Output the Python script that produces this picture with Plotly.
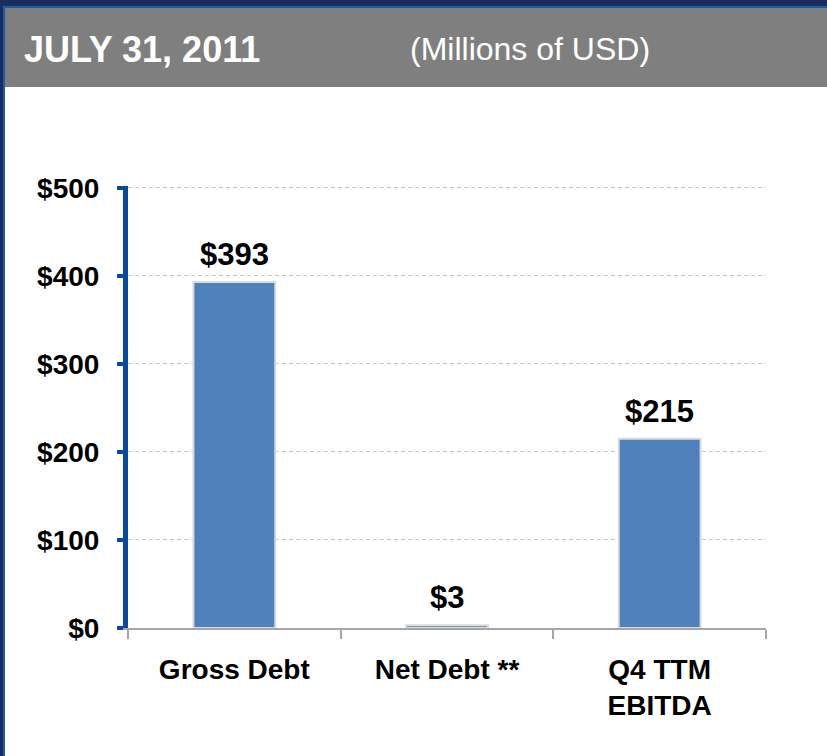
import plotly.graph_objects as go

# Chart data
categories = ["Gross Debt", "Net Debt **", "Q4 TTM<br>EBITDA"]
values = [393, 3, 215]
value_labels = ["$393", "$3", "$215"]
tick_values = [0, 100, 200, 300, 400, 500]
tick_labels = ["$0", "$100", "$200", "$300", "$400", "$500"]
title_text = "JULY 31, 2011"
units_text = "(Millions of USD)"

# Canvas and plot-area geometry (pixels)
W, H = 827, 756
Y_MAX = 502  # a little headroom so the $500 gridline is drawn
ML, MR, MB = 128, 61, 128
PH = round(440 * Y_MAX / 500)
MT = H - MB - PH
PW = W - ML - MR


def px(x):
    return (x - ML) / PW


def py(y):
    return 1 - (y - MT) / PH


FONT = "Liberation Sans, Arial, sans-serif"
NAVY = "#1B2C5F"
FRAME_BLUE = "#1F5BA6"
AXIS_BLUE = "#0B4A98"
BAR_BLUE = "#4F81BD"
HEADER_GRAY = "#7F7F7F"

fig = go.Figure()
fig.add_trace(go.Bar(
    x=categories,
    y=values,
    marker=dict(color=BAR_BLUE, line=dict(color="#DCDCDC", width=2)),
    hoverinfo="skip",
))

# Value labels above the bars
for cat, val, lab in zip(categories, values, value_labels):
    fig.add_annotation(
        x=cat, y=val, text=lab, showarrow=False,
        yanchor="bottom", yshift=8,
        font=dict(family=FONT, size=31, color="black", weight="bold"),
    )

# Frame, header strip and white panel
shapes = [
    dict(x0=px(3), x1=px(W), y0=py(6), y1=py(H), fillcolor=FRAME_BLUE),
    dict(x0=px(5), x1=px(W), y0=py(8), y1=py(87), fillcolor=HEADER_GRAY),
    dict(x0=px(5), x1=px(W), y0=py(87), y1=py(H), fillcolor="white"),
]
for s in shapes:
    fig.add_shape(type="rect", xref="paper", yref="paper", layer="below",
                  line=dict(width=0), **s)

fig.add_annotation(
    xref="paper", yref="paper", x=px(22), y=py(49), text=title_text,
    showarrow=False, xanchor="left", yanchor="middle",
    font=dict(family=FONT, size=36, color="white", weight="bold"),
)
fig.add_annotation(
    xref="paper", yref="paper", x=px(408), y=py(49), text=units_text,
    showarrow=False, xanchor="left", yanchor="middle",
    font=dict(family=FONT, size=32, color="white"),
)

fig.update_layout(
    width=W, height=H,
    margin=dict(l=ML, r=MR, t=MT, b=MB),
    paper_bgcolor=NAVY,
    plot_bgcolor="rgba(0,0,0,0)",
    showlegend=False,
    bargap=0.615,
    font=dict(family=FONT, color="black"),
)
fig.update_xaxes(
    type="category",
    showgrid=False,
    showline=True, linecolor="#A6A6A6", linewidth=2,
    ticks="outside", tickson="boundaries", ticklen=9, tickwidth=2,
    tickcolor="#A6A6A6",
    ticklabelstandoff=15,
    tickfont=dict(family=FONT, size=28, color="black", weight="bold"),
)
fig.update_yaxes(
    range=[0, Y_MAX],
    tickvals=tick_values, ticktext=tick_labels,
    showgrid=True, gridcolor="#C8C8C8", gridwidth=1, griddash="4px,3px",
    zeroline=False,
    showline=True, linecolor=AXIS_BLUE, linewidth=5,
    ticks="outside", ticklen=6, tickwidth=4, tickcolor=AXIS_BLUE,
    ticklabelstandoff=12,
    tickfont=dict(family=FONT, size=28, color="black", weight="bold"),
)

fig.write_html("out.html")
